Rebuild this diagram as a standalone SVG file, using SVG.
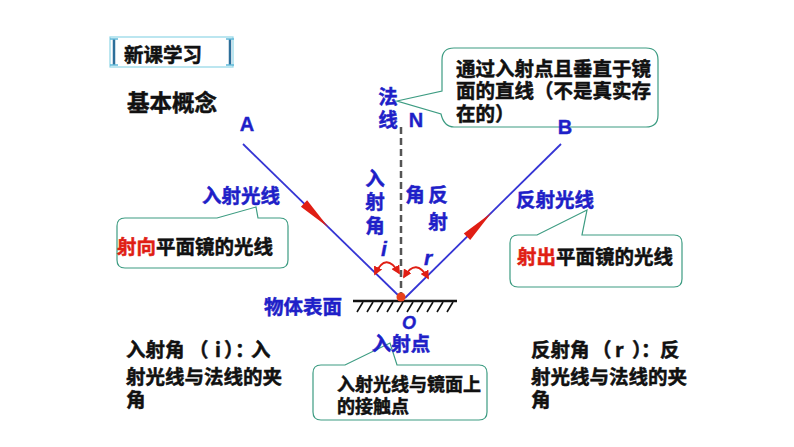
<svg xmlns="http://www.w3.org/2000/svg" width="794" height="447" viewBox="0 0 794 447">
<style>
  .cjk{font-family:"Noto Sans CJK SC","Noto Sans",sans-serif;font-weight:bold;dominant-baseline:central;stroke-width:0.5}
  .blk{fill:#111;stroke:#111}
  .blu{fill:#1f1fc8;stroke:#1f1fc8}
  .red{fill:#e01e14;stroke:#e01e14}
  .lat{font-family:"Liberation Sans",Arial,sans-serif;font-weight:bold;fill:#1f1fc8;stroke:#1f1fc8;stroke-width:0.4}
  .call{fill:#fff;stroke:#3d9c82;stroke-width:1.2}
  .ray{stroke:#3535d4;stroke-width:1.8;fill:none}
  .arc{stroke:#e01e14;stroke-width:1.8;fill:none}
</style>
<defs>
  <marker id="ah" viewBox="0 0 10 10" refX="8" refY="5" markerWidth="5" markerHeight="5" orient="auto-start-reverse">
    <path d="M0,0 L10,5 L0,10 Z" fill="#e01e14"/>
  </marker>
</defs>
<rect width="794" height="447" fill="#fff"/>

<g id="title">
  <rect x="110" y="37" width="123" height="30" fill="#fff" stroke="#8fd6e6" stroke-width="1.2"/>
  <g stroke="#2d6f9a" stroke-width="2.5">
    <line x1="114" y1="39" x2="114" y2="65"/>
    <line x1="230" y1="39" x2="230" y2="65"/>
  </g>
  <g stroke="#5fb8d8" stroke-width="1.5">
    <line x1="110" y1="39" x2="118" y2="39"/><line x1="110" y1="65" x2="118" y2="65"/>
    <line x1="226" y1="39" x2="234" y2="39"/><line x1="226" y1="65" x2="234" y2="65"/>
  </g>
  <text class="cjk blk" x="124" y="53" font-size="19.5">新课学习</text>
</g>

<text id="heading" class="cjk blk" x="127" y="101" font-size="22.5">基本概念</text>

<g id="mirror">
  <line x1="353" y1="301" x2="457" y2="301" stroke="#111" stroke-width="2.5"/>
  <g stroke="#111" stroke-width="1.6">
    <line x1="363" y1="302" x2="357" y2="312"/>
    <line x1="373" y1="302" x2="367" y2="312"/>
    <line x1="383" y1="302" x2="377" y2="312"/>
    <line x1="393" y1="302" x2="387" y2="312"/>
    <line x1="403" y1="302" x2="397" y2="312"/>
    <line x1="413" y1="302" x2="407" y2="312"/>
    <line x1="423" y1="302" x2="417" y2="312"/>
    <line x1="433" y1="302" x2="427" y2="312"/>
    <line x1="443" y1="302" x2="437" y2="312"/>
    <line x1="453" y1="302" x2="447" y2="312"/>
  </g>
</g>

<g id="connectors">
  <line id="normal" x1="401" y1="127" x2="401" y2="297" stroke="#555" stroke-width="2.5" stroke-dasharray="7,4"/>
  <line id="incident" class="ray" x1="243" y1="144" x2="401" y2="298"/>
  <line id="reflected" class="ray" x1="405" y1="298" x2="561" y2="144"/>
  <polygon points="300.9,206.7 307.1,200.3 328.3,227.2" fill="#e01e14"/>
  <polygon points="470.2,240 463.8,233.6 491.2,212.9" fill="#e01e14"/>
  <path class="arc" d="M375,274 Q386,251 399,273" marker-start="url(#ah)" marker-end="url(#ah)"/>
  <path class="arc" d="M404,277 Q416,257 428,278" marker-start="url(#ah)" marker-end="url(#ah)"/>
  <circle cx="401" cy="297" r="4.5" fill="#e8401a"/>
</g>

<g id="callout-normal">
  <path class="call" d="M454,48 H646 Q658,48 658,60 V115 Q658,127 646,127 H454 Q444,127 441,114 L397,101 L442,91 V60 Q442,48 454,48 Z"/>
  <text class="cjk blk" x="456" y="67" font-size="19.5">通过入射点且垂直于镜</text>
  <text class="cjk blk" x="456" y="89" font-size="19.5">面的直线（不是真实存</text>
  <text class="cjk blk" x="456" y="112" font-size="19.5">在的）</text>
</g>

<g id="callout-incident">
  <path class="call" d="M125,218 H217 L256,207 L258,218 H280 Q288,218 288,226 V260 Q288,268 280,268 H125 Q117,268 117,260 V226 Q117,218 125,218 Z"/>
  <text class="cjk" x="117" y="245" font-size="19.5"><tspan class="red">射向</tspan><tspan class="blk">平面镜的光线</tspan></text>
</g>

<g id="callout-reflected">
  <path class="call" d="M518,235 H537 L587,210 L582,235 H674 Q682,235 682,243 V279 Q682,287 674,287 H518 Q510,287 510,279 V243 Q510,235 518,235 Z"/>
  <text class="cjk" x="517" y="255" font-size="19.5"><tspan class="red">射出</tspan><tspan class="blk">平面镜的光线</tspan></text>
</g>

<g id="callout-point">
  <path class="call" d="M321,365 H345 L390,343 L397,365 H479 Q487,365 487,373 V412 Q487,420 479,420 H321 Q313,420 313,412 V373 Q313,365 321,365 Z"/>
  <text class="cjk blk" x="337" y="383" font-size="18">入射光线与镜面上</text>
  <text class="cjk blk" x="337" y="405" font-size="18">的接触点</text>
</g>

<g id="labels">
  <text class="lat" x="247" y="131" font-size="20" text-anchor="middle">A</text>
  <text class="lat" x="565" y="134" font-size="20" text-anchor="middle">B</text>
  <text class="lat" x="416" y="127" font-size="20" text-anchor="middle">N</text>
  <text class="cjk blu" x="388" y="95" font-size="19.5" text-anchor="middle">法</text>
  <text class="cjk blu" x="388" y="118" font-size="19.5" text-anchor="middle">线</text>
  <text class="cjk blu" x="241" y="194" font-size="19.5" text-anchor="middle">入射光线</text>
  <text class="cjk blu" x="555" y="198" font-size="19.5" text-anchor="middle">反射光线</text>
  <text class="cjk blu" x="375" y="177" font-size="19.5" text-anchor="middle">入</text>
  <text class="cjk blu" x="375" y="200" font-size="19.5" text-anchor="middle">射</text>
  <text class="cjk blu" x="375" y="224" font-size="19.5" text-anchor="middle">角</text>
  <text class="cjk blu" x="415" y="193" font-size="19.5" text-anchor="middle">角</text>
  <text class="cjk blu" x="438" y="193" font-size="19.5" text-anchor="middle">反</text>
  <text class="cjk blu" x="438" y="220" font-size="19.5" text-anchor="middle">射</text>
  <text class="lat" x="384" y="256" font-size="21" font-style="italic" text-anchor="middle">i</text>
  <text class="lat" x="428" y="265" font-size="21" font-style="italic" text-anchor="middle">r</text>
  <text class="cjk blu" x="303" y="305" font-size="19.5" text-anchor="middle">物体表面</text>
  <text class="lat" x="409" y="329" font-size="18" font-style="italic" text-anchor="middle">O</text>
  <text class="cjk blu" x="401" y="342" font-size="19.5" text-anchor="middle">入射点</text>
</g>

<g id="def-incident">
  <text class="cjk blk" y="348" font-size="19.5"><tspan x="126">入射角</tspan><tspan x="189">（</tspan><tspan x="215">i</tspan><tspan x="224">）</tspan><tspan x="235">：</tspan><tspan x="251">入</tspan></text>
  <text class="cjk blk" x="126" y="375" font-size="19.5">射光线与法线的夹</text>
  <text class="cjk blk" x="126" y="398" font-size="19.5">角</text>
</g>

<g id="def-reflected">
  <text class="cjk blk" y="348" font-size="19.5"><tspan x="531">反射角</tspan><tspan x="592">（</tspan><tspan x="615">r </tspan><tspan x="632">）</tspan><tspan x="641">：</tspan><tspan x="660">反</tspan></text>
  <text class="cjk blk" x="531" y="375" font-size="19.5">射光线与法线的夹</text>
  <text class="cjk blk" x="531" y="398" font-size="19.5">角</text>
</g>
</svg>
